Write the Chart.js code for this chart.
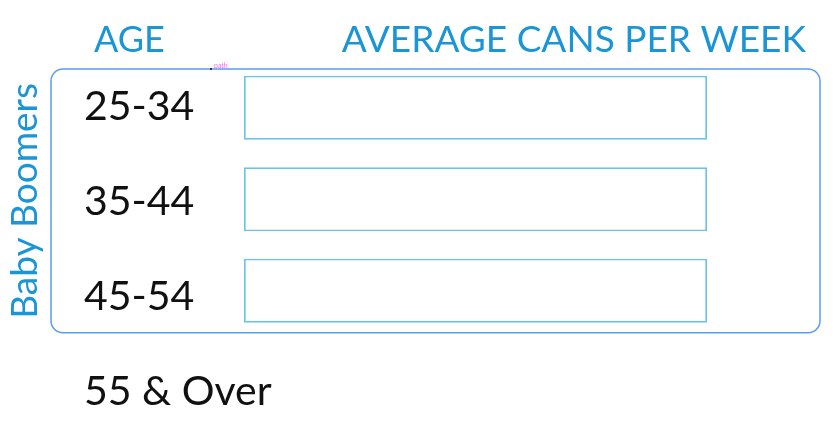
<!DOCTYPE html>
<html>
<head>
<meta charset="utf-8">
<script src="https://cdn.jsdelivr.net/npm/chart.js@4"></script>
<style>
html,body{margin:0;padding:0;background:#fff;}
#wrap{width:837px;height:432px;position:relative;}
</style>
</head>
<body>
<div id="wrap"><canvas id="c" width="837" height="432"></canvas></div>
<script>
const categories = ["25-34", "35-44", "45-54", "55 & Over"];
const cansPerWeek = [10, 10, 10, null];
const xMax = 10;
const headerAge = "AGE";
const headerValue = "AVERAGE CANS PER WEEK";
const groupLabel = "Baby Boomers";

const BLUE = "#1b95d6";
const FONT = "Lato, 'Open Sans', sans-serif";

const decor = {
  id: "decor",
  afterDraw(chart) {
    const ctx = chart.ctx;
    const y = chart.scales.y;
    const ca = chart.chartArea;
    const band = y.getPixelForValue(1) - y.getPixelForValue(0);
    const top = y.getPixelForValue(0) - band * 0.424;
    const bottom = y.getPixelForValue(2) + band * 0.46;
    const left = ca.left - 193;
    const right = ca.right + 113;
    ctx.save();

    // category labels, left-aligned, placed through the y scale
    ctx.fillStyle = "#111111";
    ctx.font = "41px " + FONT;
    ctx.textAlign = "left";
    ctx.textBaseline = "middle";
    y.getLabels().forEach((lab, i) => {
      ctx.fillText(lab, y.left, y.getPixelForValue(i) + i * 3.5 - 1);
    });

    ctx.strokeStyle = "#5a9cf0";
    ctx.lineWidth = 1.5;
    ctx.beginPath();
    ctx.roundRect(left, top, right - left, bottom - top, 12);
    ctx.stroke();

    ctx.fillStyle = BLUE;
    ctx.font = "36px " + FONT;
    ctx.textBaseline = "middle";
    ctx.textAlign = "left";
    ctx.fillText(headerAge, 94, 40);
    ctx.font = "37px " + FONT;
    ctx.textAlign = "right";
    ctx.fillText(headerValue, 806, 40);

    ctx.save();
    ctx.translate(25, (top + bottom) / 2);
    ctx.rotate(-Math.PI / 2);
    ctx.textAlign = "center";
    ctx.textBaseline = "middle";
    ctx.font = "37px " + FONT;
    ctx.fillText(groupLabel, 0, 0);
    ctx.restore();

    ctx.fillStyle = "#ff66ff";
    ctx.font = "7px " + FONT;
    ctx.textAlign = "left";
    ctx.textBaseline = "bottom";
    ctx.fillText("path", 214, top);
    ctx.fillStyle = "#334";
    ctx.fillRect(210, top - 1, 2, 2);
    ctx.restore();
  }
};

new Chart(document.getElementById("c"), {
  type: "bar",
  data: {
    labels: categories,
    datasets: [{
      data: cansPerWeek,
      backgroundColor: "#ffffff",
      borderColor: "#6cc3ea",
      borderWidth: 1.8,
      borderSkipped: false,
      barPercentage: 0.7,
      categoryPercentage: 1.0
    }]
  },
  options: {
    indexAxis: "y",
    responsive: false,
    animation: false,
    events: [],
    layout: { padding: { left: 84, right: 130, top: 62, bottom: 4 } },
    plugins: { legend: { display: false }, tooltip: { enabled: false } },
    scales: {
      x: { display: false, min: 0, max: xMax },
      y: {
        grid: { display: false, drawTicks: false },
        border: { display: false },
        ticks: { display: false },
        afterFit(scale) { scale.width = 160; }
      }
    }
  },
  plugins: [decor]
});
</script>
</body>
</html>
